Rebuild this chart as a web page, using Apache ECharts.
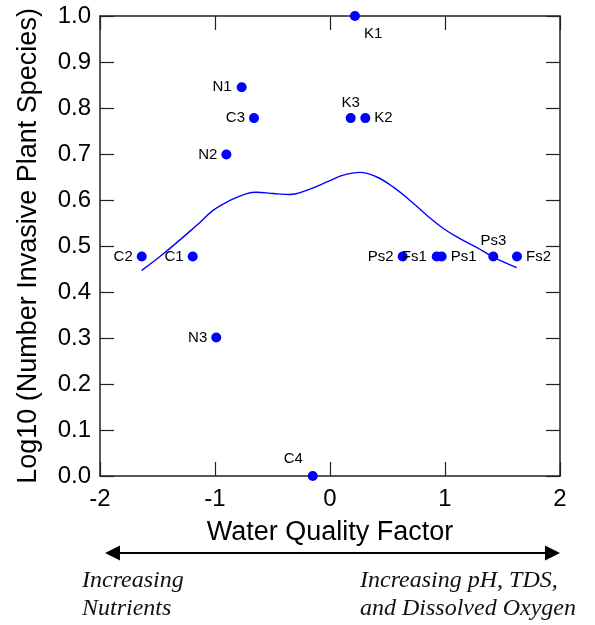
<!DOCTYPE html>
<html>
<head>
<meta charset="utf-8">
<script src="https://cdn.jsdelivr.net/npm/echarts@6/dist/echarts.min.js"></script>
<style>
html,body{margin:0;padding:0;background:#fff;}
#chart{width:595px;height:625px;}
</style>
</head>
<body>
<div id="chart"></div>
<script>
// ---- data ----
var siteNames = ['K1','K3','K2','N1','C3','N2','C2','C1','N3','C4','Ps2','Fs1','Ps1','Ps3','Fs2'];
var siteX = [0.217, 0.180, 0.307, -0.768, -0.661, -0.901, -1.637, -1.194, -0.989, -0.150, 0.632, 0.928, 0.971, 1.420, 1.626];
var siteY = [1.000, 0.778, 0.778, 0.845, 0.778, 0.699, 0.477, 0.477, 0.301, 0.000, 0.477, 0.477, 0.477, 0.477, 0.477];

var curveX = [-1.637, -1.449, -1.159, -1.014, -0.870, -0.724, -0.638, -0.493, -0.348, -0.203, 0.000, 0.116, 0.261, 0.406, 0.551, 0.696, 0.841, 0.986, 1.130, 1.275, 1.420, 1.623];
var curveY = [0.447, 0.483, 0.545, 0.578, 0.599, 0.614, 0.617, 0.614, 0.612, 0.621, 0.642, 0.654, 0.660, 0.650, 0.628, 0.599, 0.567, 0.538, 0.516, 0.497, 0.476, 0.453];

var xTicks = [-2, -1, 0, 1, 2];
var yTicks = [0.0, 0.1, 0.2, 0.3, 0.4, 0.5, 0.6, 0.7, 0.8, 0.9, 1.0];

var xTitle = 'Water Quality Factor';
var yTitle = 'Log10 (Number Invasive Plant Species)';
var leftNote = ['Increasing', 'Nutrients'];
var rightNote = ['Increasing pH, TDS,', 'and Dissolved Oxygen'];

// ---- label placement (style only) ----
var labelPlace = {
  K1: {position: [14, 15]},
  K3: {position: 'top', distance: 3},
  K2: {position: 'right', distance: 4},
  N1: {position: 'left', distance: 5},
  C3: {position: 'left', distance: 4},
  N2: {position: 'left', distance: 4},
  C2: {position: 'left', distance: 4},
  C1: {position: 'left', distance: 4},
  N3: {position: 'left', distance: 4},
  C4: {position: [-24, -20]},
  Ps2: {position: 'left', distance: 4},
  Fs1: {position: 'left', distance: 5},
  Ps1: {position: 'right', distance: 4},
  Ps3: {position: 'top', distance: 3},
  Fs2: {position: 'right', distance: 4}
};

var pts = siteNames.map(function (n, i) {
  var lp = labelPlace[n];
  var lab = {show: true, position: lp.position};
  if (lp.distance !== undefined) lab.distance = lp.distance;
  return {name: n, value: [siteX[i], siteY[i]], label: lab};
});
var curve = curveX.map(function (x, i) { return [x, curveY[i]]; });

var SANS = '"Liberation Sans", Arial, Helvetica, sans-serif';
var SERIF = '"Liberation Serif", "Times New Roman", serif';
var frame = '#222';
var GL = 100, GT = 16, GW = 460, GH = 460;

var chart = echarts.init(document.getElementById('chart'), null, {renderer: 'canvas'});

function axisCommon(extra) {
  var o = {
    type: 'value',
    axisLine: {show: true, onZero: false, lineStyle: {color: frame, width: 1.5}},
    axisTick: {show: true, inside: true, length: 14, lineStyle: {color: frame, width: 1.2}},
    splitLine: {show: false}
  };
  for (var k in extra) o[k] = extra[k];
  return o;
}

var option = {
  animation: false,
  backgroundColor: '#fff',
  grid: {left: GL, top: GT, width: GW, height: GH, containLabel: false},
  xAxis: [
    axisCommon({
      position: 'bottom', min: xTicks[0], max: xTicks[xTicks.length - 1], interval: 1,
      axisLabel: {show: true, color: '#000', fontFamily: SANS, fontSize: 24, margin: 11,
        formatter: function (v) { return String(v); }},
      name: xTitle, nameLocation: 'middle', nameGap: 43,
      nameTextStyle: {color: '#000', fontFamily: SANS, fontSize: 27}
    }),
    axisCommon({
      position: 'top', min: xTicks[0], max: xTicks[xTicks.length - 1], interval: 1,
      axisLabel: {show: false}
    })
  ],
  yAxis: [
    axisCommon({
      position: 'left', min: yTicks[0], max: yTicks[yTicks.length - 1], interval: 0.1,
      axisLabel: {show: true, color: '#000', fontFamily: SANS, fontSize: 24, margin: 9,
        formatter: function (v) { return v.toFixed(1); }},
      name: yTitle, nameLocation: 'middle', nameGap: 58, nameRotate: 90,
      nameTextStyle: {color: '#000', fontFamily: SANS, fontSize: 27}
    }),
    axisCommon({
      position: 'right', min: yTicks[0], max: yTicks[yTicks.length - 1], interval: 0.1,
      axisLabel: {show: false}
    })
  ],
  series: [
    {
      type: 'line', xAxisIndex: 0, yAxisIndex: 0, data: curve, smooth: 0.4,
      showSymbol: false, symbol: 'none',
      lineStyle: {color: '#0000ff', width: 1.4}, z: 2, silent: true
    },
    {
      type: 'scatter', xAxisIndex: 0, yAxisIndex: 0, data: pts,
      symbol: 'circle', symbolSize: 10,
      itemStyle: {color: '#0000ff', opacity: 1},
      label: {color: '#000', fontFamily: SANS, fontSize: 15, formatter: '{b}'},
      labelLayout: {hideOverlap: false},
      z: 3
    }
  ],
  graphic: [
    {type: 'line', shape: {x1: 118, y1: 553, x2: 547, y2: 553}, style: {stroke: '#000', lineWidth: 2}},
    {type: 'polygon', shape: {points: [[105, 553], [120, 545.5], [120, 560.5]]}, style: {fill: '#000'}},
    {type: 'polygon', shape: {points: [[560, 553], [545, 545.5], [545, 560.5]]}, style: {fill: '#000'}},
    {type: 'text', left: 82, top: 567, style: {text: leftNote.join('\n'), font: 'italic 24px ' + SERIF, fill: '#111', lineHeight: 28}},
    {type: 'text', left: 360, top: 567, style: {text: rightNote.join('\n'), font: 'italic 24px ' + SERIF, fill: '#111', lineHeight: 28}}
  ]
};
chart.setOption(option);
</script>
</body>
</html>
